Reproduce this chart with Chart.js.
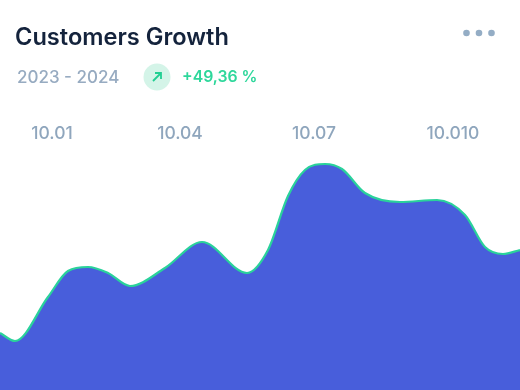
<!DOCTYPE html>
<html><head><meta charset="utf-8">
<script src="https://cdn.jsdelivr.net/npm/chart.js@4"></script>
<style>
html,body{margin:0;padding:0;background:#fff;width:520px;height:390px;overflow:hidden}
#wrap{position:relative;width:520px;height:390px;font-family:Inter,sans-serif}
canvas{position:absolute;left:0;top:0}
.t{position:absolute;white-space:nowrap;line-height:1}
#title{left:15px;top:25px;font-size:23.6px;font-weight:600;color:#14233c}
#range{left:17px;top:69px;font-size:17px;font-weight:500;color:#97abc1}
#pct{left:182px;top:69px;font-size:15.8px;font-weight:600;color:#2ed79b}
#badge{position:absolute;left:143px;top:63px;width:28px;height:28px}
#dots{position:absolute;left:461.5px;top:27px;width:35px;height:12px}
</style></head><body>
<div id="wrap">
<canvas id="c" width="520" height="390"></canvas>
<div class="t" id="title">Customers Growth</div>
<div class="t" id="range">2023 - 2024</div>
<svg id="badge" viewBox="0 0 28 28"><circle cx="14" cy="14" r="13.5" fill="#d4f4e8"/><path d="M10 18 L18 10 M12 10 H18 V16" fill="none" stroke="#22cf92" stroke-width="1.8"/></svg>
<div class="t" id="pct">+49,36 %</div>
<svg id="dots" viewBox="0 0 35 12"><circle cx="4.5" cy="6" r="3.3" fill="#94adc5"/><circle cx="17" cy="6" r="3.3" fill="#94adc5"/><circle cx="29.5" cy="6" r="3.3" fill="#94adc5"/></svg>
</div>
<script>
const positions=[0,15,48,68,88,108,130,165,202,247,268,288,305,325,342,365,400,437,465,485,503,520];
const values=[57,49,93,119,123,117,104,122,148,117,140,194,220,226,221,197,188,190,175,143,136,140];
const tickPositions=[52,180,314,453];
const tickLabels=['10.01','10.04','10.07','10.010'];
const points=positions.map((x,i)=>({x:x,y:values[i]}));
new Chart(document.getElementById('c'),{
  type:'line',
  data:{datasets:[{data:points,borderColor:'#2ad29b',borderWidth:2.2,backgroundColor:'#485edb',fill:'origin',pointRadius:0,cubicInterpolationMode:'monotone'}]},
  options:{
    responsive:false,animation:false,
    layout:{padding:{top:110,left:0,right:0,bottom:0}},
    plugins:{legend:{display:false},tooltip:{enabled:false}},
    scales:{
      x:{type:'linear',position:'top',min:0,max:520,
        grid:{display:false,drawTicks:false},border:{display:false},
        afterBuildTicks(a){a.ticks=tickPositions.map(v=>({value:v}));},
        afterFit(a){a.height=35;},
        ticks:{autoSkip:false,maxRotation:0,padding:1,color:'#8fa6bd',font:{family:'Inter',size:17.5,weight:'500'},
          callback(v){return tickLabels[tickPositions.indexOf(v)];}}},
      y:{display:false,min:0,max:245}
    }
  }
});
</script>
</body></html>
